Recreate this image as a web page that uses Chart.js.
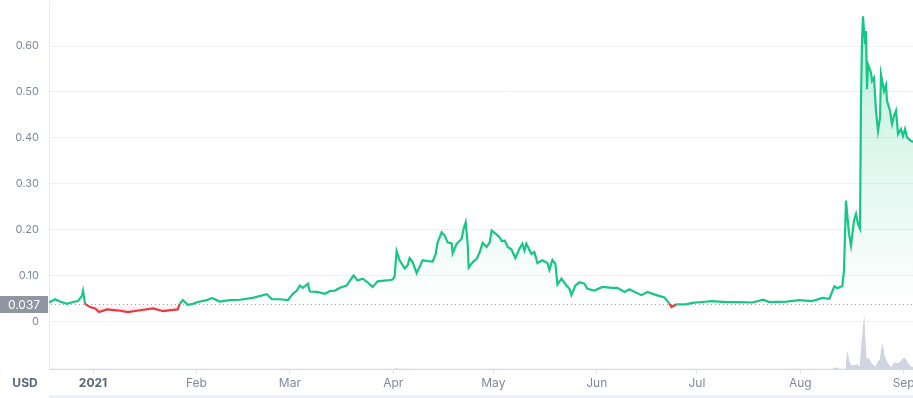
<!DOCTYPE html>
<html>
<head>
<meta charset="utf-8">
<script src="https://cdn.jsdelivr.net/npm/chart.js@4.4.0/dist/chart.umd.min.js"></script>
<style>
  html, body { margin: 0; padding: 0; background: #fff; overflow: hidden; }
  #wrap { width: 913px; height: 398px; overflow: hidden; position: relative; }
</style>
</head>
<body>
<div id="wrap"><canvas id="price-chart" width="960" height="398"></canvas></div>
<script>
// days counted from 1 Jan 2021
const days = [
  -13.2,-11.4,-9.9,-7.8,-6.0,-4.5,-3.3,-3.0,-2.4,-0.9,
  0.6,1.8,4.2,7.2,10.5,14.1,18.0,21.0,24.0,25.4,
  26.0,26.9,28.4,29.9,31.4,34.1,35.6,38.0,41.0,44.0,
  47.9,52.1,53.6,56.0,58.4,59.9,61.1,62.0,62.9,64.4,
  65.0,67.1,69.5,71.0,72.5,74.0,76.0,78.1,79.3,80.8,
  82.3,83.8,85.3,88.0,89.8,90.4,91.0,91.9,93.4,94.3,
  94.9,95.8,97.0,98.8,100.3,101.8,102.7,103.3,104.5,105.4,
  106.3,107.5,107.8,109.0,110.5,111.1,111.7,112.3,112.6,113.8,
  115.0,115.9,116.8,118.0,118.9,119.5,121.0,121.9,122.5,123.4,
  124.3,125.4,126.6,127.8,128.7,129.3,129.9,131.4,132.3,133.2,
  134.7,136.2,136.8,137.7,138.6,139.2,140.4,141.9,142.8,143.4,
  144.6,145.8,147.3,148.2,150.3,152.7,155.4,157.2,159.3,160.8,
  162.9,164.4,166.2,168.9,171.3,172.8,173.4,174.9,177.8,179.6,
  182.6,185.6,189.8,193.7,197.6,200.9,202.7,207.8,211.7,215.6,
  218.6,220.7,221.6,222.2,223.1,224.6,225.1,225.7,226.6,227.2,
  228.1,228.7,229.3,229.9,230.2,230.5,230.8,231.4,231.7,232.0,
  232.3,233.2,233.5,234.1,234.7,235.3,235.9,236.2,237.1,237.7,
  238.0,238.9,239.5,240.1,240.7,241.3,242.2,242.8,243.4,244.0,
  245.2,246.5
]
const prices = [
  0.041,0.048,0.043,0.038,0.042,0.044,0.056,0.066,0.038,0.031,
  0.028,0.020,0.026,0.024,0.020,0.024,0.028,0.022,0.025,0.026,
  0.038,0.046,0.036,0.038,0.042,0.046,0.051,0.043,0.046,0.047,
  0.051,0.059,0.048,0.048,0.046,0.060,0.067,0.078,0.073,0.082,
  0.065,0.064,0.060,0.066,0.067,0.073,0.078,0.100,0.089,0.093,
  0.085,0.075,0.087,0.089,0.091,0.098,0.153,0.133,0.115,0.122,
  0.138,0.129,0.105,0.133,0.131,0.130,0.147,0.172,0.194,0.187,
  0.172,0.170,0.148,0.169,0.180,0.202,0.216,0.169,0.117,0.129,
  0.136,0.151,0.171,0.162,0.172,0.198,0.189,0.183,0.175,0.176,
  0.162,0.157,0.138,0.158,0.169,0.154,0.169,0.147,0.151,0.127,
  0.133,0.127,0.112,0.134,0.125,0.080,0.093,0.078,0.071,0.057,
  0.078,0.085,0.082,0.071,0.067,0.075,0.073,0.073,0.064,0.070,
  0.062,0.057,0.064,0.057,0.052,0.038,0.031,0.037,0.037,0.040,
  0.042,0.044,0.042,0.042,0.041,0.047,0.042,0.043,0.046,0.044,
  0.051,0.049,0.065,0.076,0.072,0.077,0.110,0.263,0.191,0.165,
  0.220,0.234,0.212,0.202,0.480,0.611,0.665,0.604,0.633,0.506,
  0.560,0.542,0.524,0.531,0.459,0.415,0.444,0.538,0.502,0.515,
  0.480,0.459,0.430,0.448,0.459,0.408,0.419,0.404,0.419,0.401,
  0.393,0.390
]
// volume (relative units)
const volDays = [-13.2, 90.5, 91.0, 91.5, 221.8, 222.2, 223.4, 223.7, 225.5, 225.7,
  226.1, 226.4, 226.8, 227.4, 228.1, 229.1, 229.8, 230.3, 230.8, 231.2,
  231.5, 231.9, 232.6, 233.4, 234.5, 235.2, 235.8, 236.3, 236.8, 237.2,
  237.8, 238.6, 239.4, 240.1, 241.1, 241.8, 242.6, 243.4, 244.1, 245.1, 246.5]
const volumes = [3, 3, 12, 3, 3, 13, 13, 3, 3, 60,
  180, 140, 70, 33, 40, 47, 23, 240, 433, 547,
  307, 107, 107, 57, 23, 73, 90, 213, 257, 140,
  90, 40, 20, 67, 57, 67, 103, 113, 73, 23, 20]

const monthDays = [0, 31, 59, 90, 120, 151, 181, 212, 243]
const monthLabels = ['2021', 'Feb', 'Mar', 'Apr', 'May', 'Jun', 'Jul', 'Aug', 'Sep']
const yTicks = [0, 0.1, 0.2, 0.3, 0.4, 0.5, 0.6]
const basePrice = 0.037

const green = '#16c784'
const red = '#ea3943'

Chart.defaults.font.family = 'Inter, "DejaVu Sans", sans-serif'

const extras = {
  id: 'extras',
  beforeDatasetsDraw(chart) {
    const c = chart.ctx, a = chart.chartArea
    const py = Math.round(chart.scales.y.getPixelForValue(basePrice)) + 0.5
    c.save()
    c.strokeStyle = '#9aa3b3'
    c.lineWidth = 1
    c.setLineDash([1, 3])
    c.beginPath()
    c.moveTo(a.left + 2, py)
    c.lineTo(a.right, py)
    c.stroke()
    c.restore()
  },
  afterDraw(chart) {
    const c = chart.ctx, a = chart.chartArea
    const py = Math.round(chart.scales.y.getPixelForValue(basePrice))
    c.save()
    c.fillStyle = '#8f95a1'
    c.fillRect(0, py - 8, 48, 17)
    c.fillStyle = '#ffffff'
    c.font = '12px Inter, sans-serif'
    c.textAlign = 'center'
    c.textBaseline = 'middle'
    c.fillText(basePrice.toFixed(3), 24, py + 1)
    c.fillStyle = '#58667e'
    c.font = 'bold 12px Inter, sans-serif'
    c.fillText('USD', 25, 383)
    c.fillStyle = '#eef1fb'
    c.fillRect(a.left, 395, chart.width - a.left, 3)
    c.restore()
  }
}

const ctx1 = document.getElementById('price-chart')

const priceChart = new Chart(ctx1, {
  type: 'line',
  data: {
    datasets: [
      {
        data: days.map((d, i) => ({ x: d, y: prices[i] })),
        yAxisID: 'y',
        borderColor: green,
        borderWidth: 2.2,
        pointRadius: 0,
        tension: 0,
        fill: { target: { value: basePrice }, above: 'rgba(22,199,132,0.1)', below: 'rgba(234,57,67,0.05)' },
        segment: {
          borderColor: s => (s.p0.parsed.y + s.p1.parsed.y) / 2 < basePrice ? red : undefined
        },
        order: 1
      },
      {
        data: volDays.map((d, i) => ({ x: d, y: volumes[i] })),
        yAxisID: 'vol',
        borderWidth: 0,
        pointRadius: 0,
        tension: 0,
        fill: 'origin',
        backgroundColor: '#cfd5e3',
        order: 2
      }
    ]
  },
  options: {
    responsive: false,
    animation: false,
    devicePixelRatio: 1,
    layout: { padding: 0 },
    plugins: { legend: { display: false }, tooltip: { enabled: false } },
    scales: {
      x: {
        type: 'linear',
        min: -13.2,
        max: 259.55,
        afterBuildTicks: s => { s.ticks = monthDays.map(v => ({ value: v })) },
        afterFit: s => { s.height = 29 },
        grid: { drawOnChartArea: false, tickLength: 5, color: '#dfe3ea' },
        border: { color: '#d5dae4' },
        ticks: {
          autoSkip: false,
          maxRotation: 0,
          padding: 2,
          color: c => c.index === 0 ? '#58667e' : '#808a9d',
          font: c => ({ size: 12, weight: c.index === 0 ? 'bold' : 'normal' }),
          callback: (v, i) => monthLabels[i]
        }
      },
      y: {
        position: 'left',
        min: -0.104,
        max: 0.698,
        afterBuildTicks: s => { s.ticks = yTicks.map(v => ({ value: v })) },
        afterFit: s => { s.width = 49; s.paddingTop = 0; s.paddingBottom = 0 },
        grid: { color: '#eff2f5', drawTicks: false },
        border: { color: '#e8ecf1' },
        ticks: {
          padding: 10,
          color: '#808a9d',
          font: { size: 11 },
          callback: v => v === 0 ? '0' : v.toFixed(2)
        }
      },
      vol: { display: false, min: 0, max: 3690 }
    }
  },
  plugins: [extras]
})

// gradient fill between the line and the start price
function applyFill() {
  const y = priceChart.scales.y
  const basePx = y.getPixelForValue(basePrice)
  const g = ctx1.getContext('2d').createLinearGradient(0, y.getPixelForValue(Math.max(...prices)), 0, basePx)
  g.addColorStop(0, 'rgba(22,199,132,0.28)')
  g.addColorStop(1, 'rgba(22,199,132,0)')
  const r = ctx1.getContext('2d').createLinearGradient(0, basePx, 0, y.getPixelForValue(Math.min(...prices)))
  r.addColorStop(0, 'rgba(234,57,67,0)')
  r.addColorStop(1, 'rgba(234,57,67,0.15)')
  priceChart.data.datasets[0].fill = { target: { value: basePrice }, above: g, below: r }
  priceChart.update()
}
applyFill()
</script>
</body>
</html>
